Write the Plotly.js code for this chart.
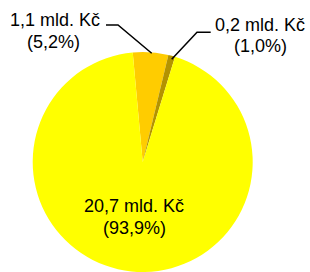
<!DOCTYPE html>
<html><head><meta charset="utf-8">
<script src="https://cdn.plot.ly/plotly-3.0.1.min.js"></script>
<style>html,body{margin:0;padding:0;background:#fff}</style>
</head><body>
<div id="chart" style="width:310px;height:272px"></div>
<script>
var categories = ["B", "C", "A"];
var amounts = ["1,1", "0,2", "20,7"];
var shares = [5.2, 1.0, 93.9];
var shareLabels = ["5,2", "1,0", "93,9"];
var colors = ["#FFCC00", "#B39300", "#FFFF00"];

function px(x){return x/310;}
function py(y){return 1 - y/272;}

var labelPos = [
  {x1:54.5, y1:20.3, x2:53, y2:41.6},
  {x1:260, y1:25, x2:260, y2:46.3},
  {x1:134, y1:206.3, x2:134, y2:228}
];
var annotations = [];
for (var i=0;i<categories.length;i++){
  var p = labelPos[i];
  annotations.push({x:px(p.x1), y:py(p.y1), xref:'paper', yref:'paper', xanchor:'center', yanchor:'middle', showarrow:false, text: amounts[i] + " mld. Kč", font:{family:'Liberation Sans, Arial', size:18, color:'#000'}});
  annotations.push({x:px(p.x2), y:py(p.y2), xref:'paper', yref:'paper', xanchor:'center', yanchor:'middle', showarrow:false, text: "(" + shareLabels[i] + "%)", font:{family:'Liberation Sans, Arial', size:18, color:'#000'}});
}
function path(pts){return pts.map(function(p,i){return (i?'L':'M')+px(p[0])+','+py(p[1]);}).join(' ');}
var shapes = [
  {type:'path', xref:'paper', yref:'paper', path: path([[106,25],[118,25],[151.7,53.3]]), line:{color:'#000', width:1.5}},
  {type:'path', xref:'paper', yref:'paper', path: path([[210.7,32.3],[197,32.3],[171.7,59.3]]), line:{color:'#000', width:1.5}}
];

var data = [{
  type:'pie', labels:categories, values:shares, sort:false, direction:'clockwise', rotation:-5.2,
  marker:{colors:colors, line:{width:0}}, textinfo:'none', hoverinfo:'none',
  domain:{x:[(142.7-110)/310, (142.7+110)/310], y:[0, 220/272]}
}];
var layout = {width:310, height:272, margin:{l:0,r:0,t:0,b:0}, showlegend:false,
  paper_bgcolor:'#fff', plot_bgcolor:'#fff', annotations:annotations, shapes:shapes};
Plotly.newPlot('chart', data, layout, {staticPlot:true, displayModeBar:false});
</script>
</body></html>
